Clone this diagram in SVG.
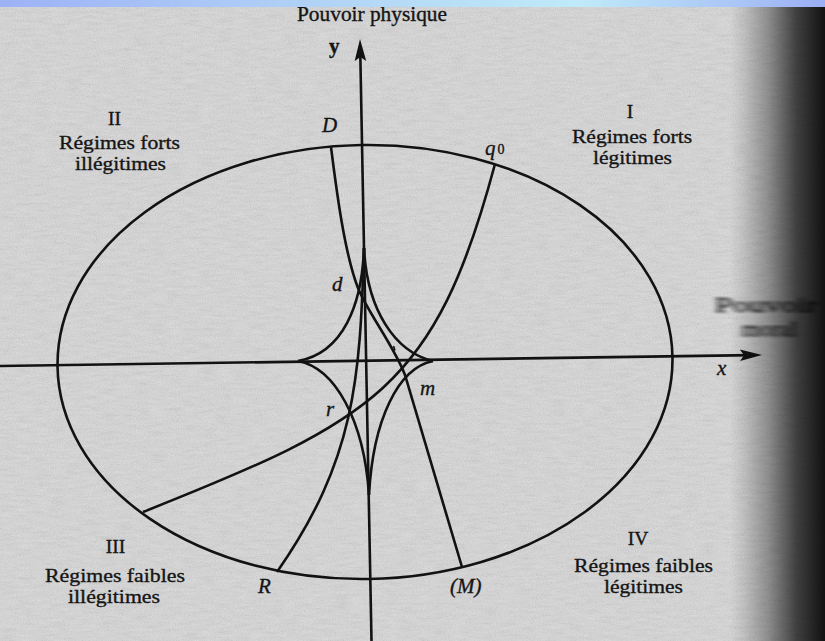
<svg xmlns="http://www.w3.org/2000/svg" width="825" height="641" viewBox="0 0 825 641">
<defs>
  <style>
    .ln{fill:none;stroke:#121212;stroke-width:2.6;stroke-linecap:butt}
    .t{font-family:"Liberation Serif","Times New Roman",serif;fill:#151515;stroke:#151515;stroke-width:0.35;font-size:21px}
    .q{font-size:19.5px}
    .c{text-anchor:middle}
    .i{font-style:italic}
  </style>
  <linearGradient id="bar" x1="0" x2="1" y1="0" y2="0">
    <stop offset="0" stop-color="#9db2f6"/>
    <stop offset="0.45" stop-color="#b4d8f6"/>
    <stop offset="0.7" stop-color="#bfeaf8"/>
    <stop offset="0.9" stop-color="#a9c4f6"/>
    <stop offset="1" stop-color="#9aaef4"/>
  </linearGradient>
  <linearGradient id="edge" gradientUnits="userSpaceOnUse" x1="730" y1="0" x2="825" y2="0">
    <stop offset="0" stop-color="#000" stop-opacity="0"/>
    <stop offset="0.15" stop-color="#000" stop-opacity="0.1"/>
    <stop offset="0.4" stop-color="#000" stop-opacity="0.33"/>
    <stop offset="0.7" stop-color="#000" stop-opacity="0.7"/>
    <stop offset="1" stop-color="#000" stop-opacity="0.92"/>
  </linearGradient>
  <filter id="grain" x="0" y="0" width="100%" height="100%">
    <feTurbulence type="fractalNoise" baseFrequency="0.85" numOctaves="2" seed="4"/>
    <feColorMatrix type="matrix" values="1 0 0 0 0  1 0 0 0 0  1 0 0 0 0  0 0 0 0 1"/>
  </filter>
  <filter id="streak" x="0" y="0" width="100%" height="100%">
    <feTurbulence type="fractalNoise" baseFrequency="0.06 0.35" numOctaves="3" seed="9"/>
    <feColorMatrix type="matrix" values="1 0 0 0 0  1 0 0 0 0  1 0 0 0 0  0 0 0 0 1"/>
  </filter>
  <filter id="smear" x="-20%" y="-50%" width="140%" height="200%">
    <feGaussianBlur stdDeviation="3 0.8"/>
  </filter>
  <marker id="arr" markerUnits="userSpaceOnUse" markerWidth="24" markerHeight="14" viewBox="0 0 24 14" refX="12" refY="7" orient="auto">
    <path d="M0,1.2 L22,7 L0,12.8 L4,7 Z" fill="#121212"/>
  </marker>
</defs>

<!-- paper -->
<rect x="0" y="0" width="825" height="641" fill="#dadada"/>
<rect x="0" y="0" width="825" height="641" filter="url(#streak)" opacity="0.1"/>
<rect x="0" y="0" width="825" height="641" filter="url(#grain)" opacity="0.14"/>

<!-- curves -->
<g id="connectors" class="ln">
  <ellipse id="ellipse" cx="365" cy="362" rx="307.5" ry="217" transform="rotate(-0.9 365 362)"/>
  <line id="axis-x" x1="0" y1="366" x2="752" y2="355.14" marker-end="url(#arr)"/>
  <line id="axis-y" x1="371.5" y1="641" x2="360.2" y2="49" marker-end="url(#arr)"/>
  <g id="astroid">
    <path d="M364,248 C362,305 343,353 298,361"/>
    <path d="M298,361 C335,368 364,420 369,495"/>
    <path d="M369,495 C373,420 398,368 433,361"/>
    <path d="M433,361 C395,352 367,310 364,248"/>
  </g>
  <path id="curve-D-M" d="M331,147 C336,186 344,252 358,288 C368,313 394,346 405,375 L462,567"/>
  <path id="curve-q0" d="M495,164 C435,388 374.5,420 143,512"/>
  <path id="curve-R" d="M364,248 C360,380 355,460 277,572"/>
  <path d="M393.5,346 L395,350.5" stroke-width="1.6"/>
</g>

<!-- labels -->
<g id="label-y-axis"><text class="t" x="297" y="20.5" textLength="150" lengthAdjust="spacingAndGlyphs">Pouvoir physique</text></g>
<g id="label-y"><text class="t" x="329" y="53" font-weight="bold" font-size="22">y</text></g>
<g id="label-x"><text class="t i" x="717" y="375">x</text></g>
<g id="label-x-axis" filter="url(#smear)">
  <text class="t" x="715" y="312" font-size="19" textLength="102" lengthAdjust="spacingAndGlyphs">Pouvoir</text>
  <text class="t" x="742" y="336" font-size="14" textLength="55" lengthAdjust="spacingAndGlyphs">moral</text>
</g>

<g id="quadrant-II">
  <text class="t q c" x="114.5" y="125">II</text>
  <text class="t q c" x="119.5" y="149" textLength="121" lengthAdjust="spacingAndGlyphs">Régimes forts</text>
  <text class="t q c" x="120.5" y="170" textLength="91" lengthAdjust="spacingAndGlyphs">illégitimes</text>
</g>
<g id="quadrant-I">
  <text class="t q c" x="630" y="118">I</text>
  <text class="t q c" x="632" y="143" textLength="120" lengthAdjust="spacingAndGlyphs">Régimes forts</text>
  <text class="t q c" x="632.5" y="164" textLength="79" lengthAdjust="spacingAndGlyphs">légitimes</text>
</g>
<g id="quadrant-III">
  <text class="t q c" x="115.5" y="553">III</text>
  <text class="t q c" x="115" y="582" textLength="140" lengthAdjust="spacingAndGlyphs">Régimes faibles</text>
  <text class="t q c" x="114" y="603" textLength="92" lengthAdjust="spacingAndGlyphs">illégitimes</text>
</g>
<g id="quadrant-IV">
  <text class="t q c" x="638" y="545">IV</text>
  <text class="t q c" x="643.5" y="572" textLength="139" lengthAdjust="spacingAndGlyphs">Régimes faibles</text>
  <text class="t q c" x="643.5" y="593" textLength="79" lengthAdjust="spacingAndGlyphs">légitimes</text>
</g>

<g id="point-D"><text class="t i" x="322" y="132">D</text></g>
<g id="point-q0"><text class="t i" x="485" y="155">q<tspan font-size="14" font-style="normal" dx="2" dy="-1.5">0</tspan></text></g>
<g id="point-d"><text class="t i" x="332" y="291">d</text></g>
<g id="point-r"><text class="t i" x="326" y="416">r</text></g>
<g id="point-m"><text class="t i" x="420" y="395">m</text></g>
<g id="point-R"><text class="t i" x="258" y="593">R</text></g>
<g id="point-M"><text class="t i" x="450" y="593">(M)</text></g>

<!-- scan edge shading and top bar -->
<rect x="730" y="0" width="95" height="641" fill="url(#edge)"/>
<rect x="0" y="0" width="825" height="7" fill="url(#bar)"/>
</svg>
